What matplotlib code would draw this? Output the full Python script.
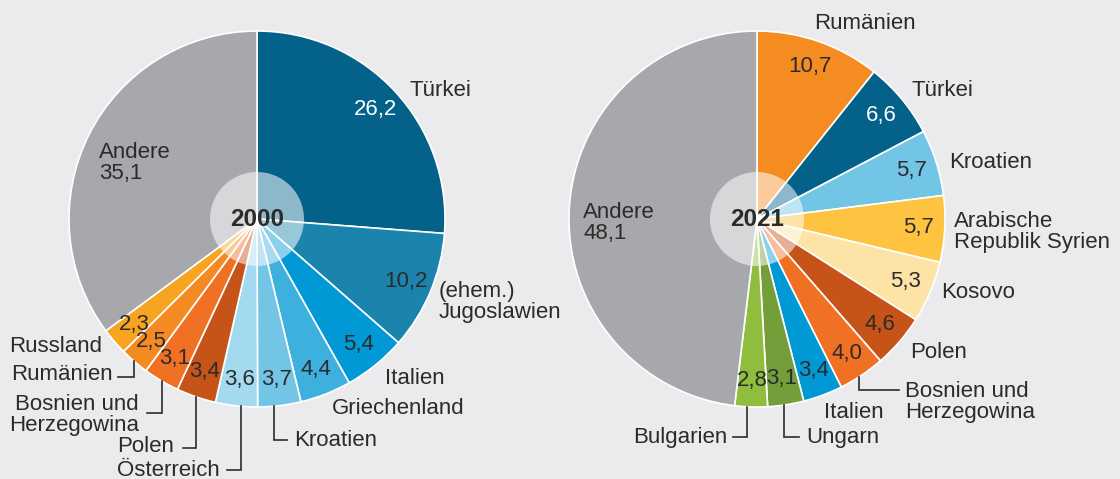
import numpy as np
import matplotlib
matplotlib.use("Agg")
import matplotlib.pyplot as plt
from matplotlib.patches import Circle

# Anteile in % (Uhrzeigersinn ab 12 Uhr)
names_2000 = ["Türkei", "(ehem.)\nJugoslawien", "Italien", "Griechenland", "Kroatien",
              "Österreich", "Polen", "Bosnien und\nHerzegowina", "Rumänien", "Russland", "Andere"]
values_2000 = [26.2, 10.2, 5.4, 4.4, 3.7, 3.6, 3.4, 3.1, 2.5, 2.3, 35.1]

names_2021 = ["Rumänien", "Türkei", "Kroatien", "Arabische\nRepublik Syrien", "Kosovo",
              "Polen", "Bosnien und\nHerzegowina", "Italien", "Ungarn", "Bulgarien", "Andere"]
values_2021 = [10.7, 6.6, 5.7, 5.7, 5.3, 4.6, 4.0, 3.4, 3.1, 2.8, 48.1]

# colours
colors_2000 = ["#04618a", "#1a84ad", "#0099d5", "#3db0de", "#73c5e6", "#a3daef",
               "#c65318", "#f07024", "#f38b22", "#f7a520", "#a7a8ab"]
colors_2021 = ["#f58c22", "#04618a", "#73c5e6", "#fec340", "#fee3a6", "#c65318",
               "#f07024", "#0099d5", "#739e3a", "#8fbd3d", "#a7a8ab"]

BG = "#ebebed"
TXT = "#2b2b2b"
FONT = "Liberation Sans"
FS = 16

# layout in pixels (y grows downwards)
W, H = 1120, 479
R = 188
R_INNER = 47
R_VAL = 0.86

# name label positions: (x, y, ha)
pos_2000 = [(410, 90, "left"), (439, 302, "left"), (385, 378, "left"), (332, 408, "left"),
            (294, 440, "left"), (220, 470, "right"), (174, 446, "right"), (139, 415, "right"),
            (113, 375, "right"), (102, 347, "right"), (99, 163, "left")]
pos_2021 = [(865, 23, "center"), (911, 90, "left"), (949, 162, "left"), (954, 232, "left"),
            (941, 293, "left"), (910, 352, "left"), (905, 402, "left"), (824, 413, "left"),
            (806, 437, "left"), (727, 437, "right"), (583, 223, "left")]

# leader lines: slice index -> (x of vertical, y of elbow, x end)
leaders_2000 = {4: (274, 440, 287), 5: (241, 470, 227), 6: (196, 448, 183),
                7: (162, 413, 147), 8: (134, 377, 118)}
leaders_2021 = {6: (859, 390, 899), 8: (784, 437, 799), 9: (747, 437, 733)}

white_vals = {"Türkei"}


def fmt(v):
    return f"{v:.1f}".replace(".", ",")


def draw_pie(ax, center, year, names, values, colors, positions, leaders):
    cx, cy = center
    wedges, _ = ax.pie(values, colors=colors, radius=R, center=center,
                       startangle=-90, counterclock=True,
                       wedgeprops=dict(edgecolor="white", linewidth=1.2))

    for i, (w, name, v) in enumerate(zip(wedges, names, values)):
        x, y, ha = positions[i]
        if name == "Andere":
            ax.text(x, y, f"Andere\n{fmt(v)}", ha="left", va="center", color=TXT,
                    fontsize=FS, family=FONT, linespacing=0.95)
            continue
        # value inside the slice
        th = np.deg2rad((w.theta1 + w.theta2) / 2)
        vx = cx + R_VAL * R * np.cos(th)
        vy = cy + R_VAL * R * np.sin(th)
        col = "white" if name in white_vals else TXT
        ax.text(vx, vy, fmt(v), ha="center", va="center", color=col,
                fontsize=FS, family=FONT)
        # name outside
        ax.text(x, y, name, ha=ha, va="center", color=TXT, fontsize=FS,
                family=FONT, linespacing=0.95)
        if i in leaders:
            lx, ly, ex = leaders[i]
            sy = cy + np.sqrt(R ** 2 - (lx - cx) ** 2)
            ax.plot([lx, lx, ex], [sy, ly, ly], color=TXT, lw=1.2,
                    solid_joinstyle="miter")

    ax.add_patch(Circle(center, R_INNER, facecolor="white", alpha=0.55,
                        edgecolor="none", zorder=3))
    ax.text(cx, cy + 1, year, ha="center", va="center", color=TXT,
            fontsize=17.5, fontweight="bold", family=FONT, zorder=4)


fig = plt.figure(figsize=(W / 100, H / 100), dpi=100, facecolor=BG)
ax = fig.add_axes([0, 0, 1, 1])
ax.set_facecolor(BG)

draw_pie(ax, (257, 219), "2000", names_2000, values_2000, colors_2000, pos_2000, leaders_2000)
draw_pie(ax, (757, 219), "2021", names_2021, values_2021, colors_2021, pos_2021, leaders_2021)

ax.set_xlim(0, W)
ax.set_ylim(H, 0)
ax.set_axis_off()

fig.savefig("out.png", dpi=100, facecolor=BG)
